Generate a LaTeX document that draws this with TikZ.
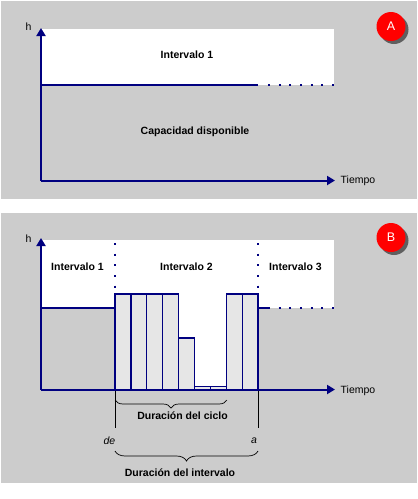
\documentclass[tikz,border=0pt]{standalone}
\usepackage{fontspec}
\setmainfont{Liberation Sans}
\usetikzlibrary{arrows.meta, positioning, decorations.pathreplacing}
\definecolor{panelgray}{HTML}{CCCCCC}
\definecolor{barfill}{HTML}{E6E6E6}
\definecolor{navy}{HTML}{000080}
\definecolor{shadowgray}{HTML}{5F5F5F}

\begin{document}
\begin{tikzpicture}[x=1pt, y=-1pt,
    axis/.style={draw=navy, line width=2pt, -{Triangle[length=8pt, width=9pt]}},
    level/.style={draw=navy, line width=2pt},
    dotline/.style={draw=navy, line width=2pt, dash pattern=on 2pt off 8.67pt},
    bar/.style={draw=navy, line width=1.3pt, fill=barfill},
    guide/.style={draw=black, line width=0.7pt},
    curly/.style={draw=black, line width=0.7pt, decorate, decoration={brace, mirror, amplitude=#1}},
    lbl/.style={font=\fontsize{10.5}{12}\selectfont\bfseries, inner sep=0pt},
    axlbl/.style={font=\fontsize{10.5}{12}\selectfont, inner sep=0pt},
    badge/.style={circle, fill=red, minimum size=29pt, inner sep=0pt, text=white, font=\fontsize{12.5}{14}\selectfont}
]
\useasboundingbox (0,0) rectangle (418,499);

% Panel A
\fill[panelgray] (1,1) rectangle (417,199);
\fill[white] (41,29) rectangle (334,85);
\coordinate (oA) at (41,180.5);
\coordinate (hA) at (41,28);
\coordinate (tA) at (335,180.5);
\coordinate (lvlA) at (41,85);
\coordinate (endA) at (258,85);
\coordinate (dotA) at (268,85);
\coordinate (lastA) at (334,85);
\draw[level] (lvlA) -- (endA);
\draw[dotline] (dotA) -- (lastA);
\draw[axis] (oA) -- (hA);
\draw[axis] (oA) -- (tA);
\node[axlbl] (hlblA) at (28.5,27) {h};
\node[axlbl, anchor=west] (timeA) at (340.5,180.5) {Tiempo};
\node[lbl] (int1A) at (187,55) {Intervalo 1};
\node[lbl] (capA) at (195,132) {Capacidad disponible};
\fill[shadowgray] (394,29.5) circle (14.5);
\node[badge] (badgeA) at (391,26.5) {A};

% Panel B
\fill[panelgray] (1,213) rectangle (417,483);
\fill[white] (41,240) rectangle (334,308);
\fill[white] (115,240) rectangle (258,389.5);
\coordinate (oB) at (41,389.5);
\coordinate (hB) at (41,238);
\coordinate (tB) at (335,389.5);
\coordinate (lvlB) at (41,308);
\coordinate (fromB) at (115,308);
\coordinate (toB) at (258,308);
\coordinate (endB) at (270,308);
\coordinate (dotB) at (268,308);
\coordinate (lastB) at (334,308);
\draw[level] (lvlB) -- (fromB);
\draw[level] (toB) -- (endB);
\draw[dotline] (dotB) -- (lastB);

% interval borders
\coordinate (deTop) at (115,243);
\coordinate (deMid) at (115,289);
\coordinate (aTop) at (258,243);
\coordinate (aMid) at (258,289);
\draw[dotline, line width=1.5pt] (deTop) -- (deMid);
\draw[dotline, line width=1.5pt] (aTop) -- (aMid);

% cycles
\foreach \i/\top in {0/294,1/294,2/294,3/294,4/338,5/386.5,6/386.5,7/294,8/294}
    \draw[bar] ({115+15.9*\i},389.5) rectangle ({115+15.9*(\i+1)},\top);

\draw[axis] (oB) -- (hB);
\draw[axis] (oB) -- (tB);
\node[axlbl] (hlblB) at (28.5,238.5) {h};
\node[axlbl, anchor=west] (timeB) at (340.5,390.5) {Tiempo};
\node[lbl] (int1B) at (77.5,266.5) {Intervalo 1};
\node[lbl] (int2B) at (186.5,266.5) {Intervalo 2};
\node[lbl] (int3B) at (295.5,266.5) {Intervalo 3};
\fill[shadowgray] (394,240.5) circle (14.5);
\node[badge] (badgeB) at (391,237.5) {B};

% durations
\coordinate (deBot) at (115,428);
\coordinate (aBot) at (258,428);
\coordinate (deAxis) at (115,390.5);
\coordinate (aAxis) at (258,390.5);
\draw[guide] (deAxis) -- (deBot);
\draw[guide] (aAxis) -- (aBot);
\coordinate (cycL) at (115,400);
\coordinate (cycR) at (227,400);
\draw[curly=8pt] (cycL) -- (cycR);
\node[lbl] (cycle) at (182.5,415.5) {Duración del ciclo};
\node[axlbl, font=\fontsize{10.5}{12}\selectfont\itshape] (de) at (109.5,440.5) {de};
\node[axlbl, font=\fontsize{10.5}{12}\selectfont\itshape] (a) at (254,440.5) {a};
\coordinate (intL) at (115,451);
\coordinate (intR) at (258,451);
\draw[curly=10pt] (intL) -- (intR);
\node[lbl] (interval) at (180,473) {Duración del intervalo};
\end{tikzpicture}
\end{document}
